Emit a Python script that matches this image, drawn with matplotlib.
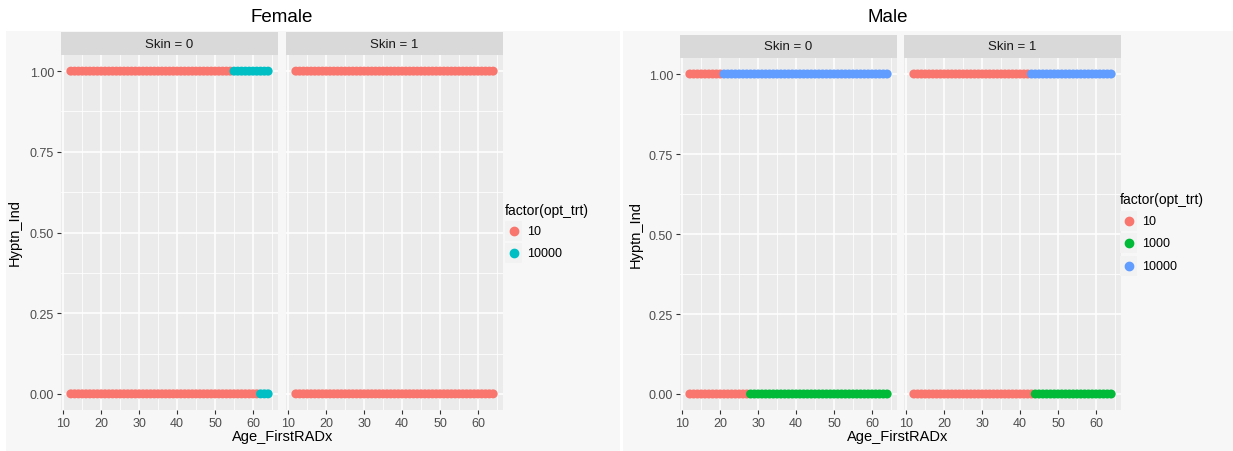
import matplotlib
matplotlib.use("Agg")
import matplotlib.pyplot as plt
from matplotlib.ticker import MultipleLocator

# ---- data ----------------------------------------------------------------
# Each row of points: segments of consecutive integer ages with the optimal treatment
ages_min, ages_max = 12, 64

female_skin0_hyptn1 = [(12, 54, "10"), (55, 64, "10000")]
female_skin0_hyptn0 = [(12, 61, "10"), (62, 64, "10000")]
female_skin1_hyptn1 = [(12, 64, "10")]
female_skin1_hyptn0 = [(12, 64, "10")]

male_skin0_hyptn1 = [(12, 20, "10"), (21, 64, "10000")]
male_skin0_hyptn0 = [(12, 27, "10"), (28, 64, "1000")]
male_skin1_hyptn1 = [(12, 42, "10"), (43, 64, "10000")]
male_skin1_hyptn0 = [(12, 43, "10"), (44, 64, "1000")]

female_levels = ["10", "10000"]
female_colors = ["#F8766D", "#00BFC4"]
male_levels = ["10", "1000", "10000"]
male_colors = ["#F8766D", "#00BA38", "#619CFF"]

x_ticks = [10, 20, 30, 40, 50, 60]
y_ticks = [0.0, 0.25, 0.5, 0.75, 1.0]
y_tick_labels = ["0.00", "0.25", "0.50", "0.75", "1.00"]

# ---- figure ----------------------------------------------------------------
W, H = 1233, 452
plt.rcParams["font.family"] = ["Liberation Sans", "DejaVu Sans"]
fig = plt.figure(figsize=(W / 100, H / 100), dpi=100)
fig.patch.set_facecolor("white")


def box(x0, y0, x1, y1):
    """pixel box (top-left origin) -> figure fraction rect"""
    return [x0 / W, 1 - y1 / H, (x1 - x0) / W, (y1 - y0) / H]


def fx(x):
    return x / W


def fy(y):
    return 1 - y / H


def blank_axes(rect, color, z=0):
    a = fig.add_axes(box(*rect), zorder=z)
    a.set_facecolor(color)
    a.set_xticks([])
    a.set_yticks([])
    for s in a.spines.values():
        s.set_visible(False)
    return a


def expand(segments):
    xs, ts = [], []
    for a, b, t in segments:
        for age in range(a, b + 1):
            xs.append(age)
            ts.append(t)
    return xs, ts


rng = ages_max - ages_min
xlim = (ages_min - 0.05 * rng, ages_max + 0.05 * rng)
ylim = (-0.05, 1.05)

# light backgrounds of the two sub-plots
bg_female = blank_axes((6, 32, 620, 452), "#F7F7F7", z=-2)
bg_male = blank_axes((623, 32, 1233, 452), "#F7F7F7", z=-2)


def draw_panel(rect, strip_rect, label, rows, levels, colors, show_y):
    ax = fig.add_axes(box(*rect), zorder=1)
    ax.set_facecolor("#EBEBEB")
    for s in ax.spines.values():
        s.set_visible(False)
    ax.set_xlim(*xlim)
    ax.set_ylim(*ylim)
    ax.set_xticks(x_ticks)
    ax.xaxis.set_minor_locator(MultipleLocator(5))
    ax.set_yticks(y_ticks)
    ax.set_yticks([0.125, 0.375, 0.625, 0.875], minor=True)
    ax.grid(True, which="major", color="white", linewidth=1.1)
    ax.grid(True, which="minor", color="white", linewidth=0.55)
    ax.set_axisbelow(True)
    ax.tick_params(which="minor", length=0)
    ax.tick_params(which="major", length=3, width=0.8, color="#333333",
                   labelsize=9, labelcolor="#4D4D4D", pad=2)
    if show_y:
        ax.set_yticklabels(y_tick_labels)
    else:
        ax.tick_params(axis="y", which="major", length=0, labelleft=False)
    cmap = dict(zip(levels, colors))
    for yval, segs in rows:
        xs, ts = expand(segs)
        ax.scatter(xs, [yval] * len(xs), s=42, c=[cmap[t] for t in ts],
                   linewidths=0, zorder=3, clip_on=False)
    sax = blank_axes(strip_rect, "#D9D9D9", z=1)
    sax.text(0.5, 0.5, label, ha="center", va="center", fontsize=9.5,
             color="#1A1A1A", transform=sax.transAxes)
    return ax


def draw_legend(x, y_title, key_ys, levels, colors):
    fig.text(fx(x), fy(y_title), "factor(opt_trt)", ha="left", va="center",
             fontsize=10, color="black", zorder=5)
    for ky, lev, col in zip(key_ys, levels, colors):
        key = blank_axes((x, ky - 10, x + 17, ky + 10), "#F2F2F2", z=2)
        key.set_xlim(0, 1)
        key.set_ylim(0, 1)
        key.plot([0.5], [0.5], marker="o", markersize=6, color=col,
                 linestyle="none")
        fig.text(fx(x + 22), fy(ky), lev, ha="left", va="center",
                 fontsize=9, color="black", zorder=5)


# ---- Female ----
draw_panel((61, 56, 278, 411), (61, 33, 278, 56), "Skin = 0",
           [(1, female_skin0_hyptn1), (0, female_skin0_hyptn0)],
           female_levels, female_colors, True)
draw_panel((286, 56, 503, 411), (286, 33, 503, 56), "Skin = 1",
           [(1, female_skin1_hyptn1), (0, female_skin1_hyptn0)],
           female_levels, female_colors, False)
fig.text(fx(282), fy(18), "Female", ha="center", va="center", fontsize=13.5)
fig.text(fx(15), fy(233), "Hyptn_Ind", ha="center", va="center",
         rotation=90, fontsize=10.5, zorder=5)
fig.text(fx(283), fy(437), "Age_FirstRADx", ha="center", va="center",
         fontsize=10.5, zorder=5)
draw_legend(505, 211, [232, 254], female_levels, female_colors)

# ---- Male ----
draw_panel((680, 59, 897, 411), (680, 36, 897, 59), "Skin = 0",
           [(1, male_skin0_hyptn1), (0, male_skin0_hyptn0)],
           male_levels, male_colors, True)
draw_panel((904, 59, 1121, 411), (904, 36, 1121, 59), "Skin = 1",
           [(1, male_skin1_hyptn1), (0, male_skin1_hyptn0)],
           male_levels, male_colors, False)
fig.text(fx(888), fy(18), "Male", ha="center", va="center", fontsize=13.5)
fig.text(fx(636), fy(235), "Hyptn_Ind", ha="center", va="center",
         rotation=90, fontsize=10.5, zorder=5)
fig.text(fx(898), fy(437), "Age_FirstRADx", ha="center", va="center",
         fontsize=10.5, zorder=5)
draw_legend(1120, 200, [222, 244, 267], male_levels, male_colors)

fig.savefig("out.png", dpi=100)
